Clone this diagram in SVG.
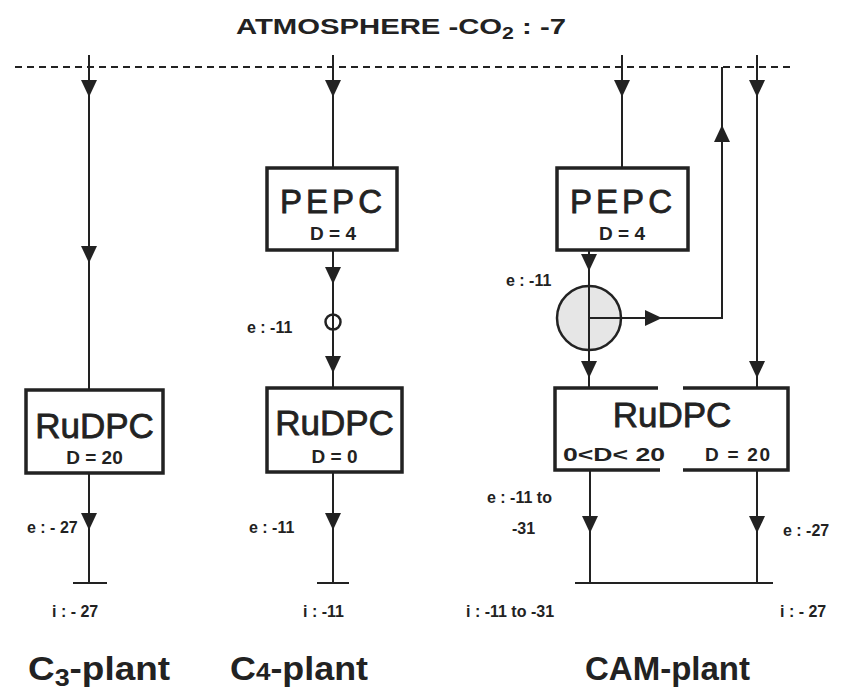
<svg xmlns="http://www.w3.org/2000/svg" xmlns:xlink="http://www.w3.org/1999/xlink" width="851" height="695" viewBox="0 0 851 695">
<style>
.bg{fill:#fff}
.ln{stroke:#222;stroke-width:2;fill:none}
.box{stroke:#222;stroke-width:3.5;fill:#fff}
.bx{stroke:#222;stroke-width:3.5;fill:none}
.ah{fill:#222}
.t{font-family:"Liberation Sans",Arial,sans-serif;fill:#222}
.big{font-size:35px;stroke:#222;stroke-width:0.8}
.pe{font-size:33px;stroke:#222;stroke-width:0.8}
.sm{font-size:19px;font-weight:bold}
.lab{font-size:16px;font-weight:bold}
.pl{font-size:33px;font-weight:bold}
</style>
<defs>
<path id="ad" d="M-8,-17 L8,-17 L0,0 Z"/>
</defs>
<rect class="bg" width="851" height="695"/>

<text class="t" x="236" y="34" font-size="22" font-weight="bold" textLength="330" lengthAdjust="spacingAndGlyphs">ATMOSPHERE -CO<tspan font-size="16" dy="5">2</tspan><tspan dy="-5"> : -7</tspan></text>

<g id="connectors">
<line class="ln" x1="15" y1="67" x2="792" y2="67" stroke-dasharray="7,5"/>
<!-- C3 -->
<line class="ln" x1="89" y1="55" x2="89" y2="390"/>
<line class="ln" x1="89" y1="473" x2="89" y2="583"/>
<line class="ln" x1="73" y1="583" x2="107" y2="583"/>
<use class="ah" xlink:href="#ad" x="89" y="97"/>
<use class="ah" xlink:href="#ad" x="89" y="263"/>
<use class="ah" xlink:href="#ad" x="89" y="530"/>
<!-- C4 -->
<line class="ln" x1="333" y1="55" x2="333" y2="168"/>
<line class="ln" x1="333" y1="250" x2="333" y2="388"/>
<line class="ln" x1="333" y1="472" x2="333" y2="583"/>
<line class="ln" x1="317" y1="583" x2="349" y2="583"/>
<circle cx="333" cy="322" r="7.5" fill="#fff" stroke="#222" stroke-width="2.5"/>
<line class="ln" x1="333" y1="314" x2="333" y2="330"/>
<use class="ah" xlink:href="#ad" x="333" y="97"/>
<use class="ah" xlink:href="#ad" x="333" y="284"/>
<use class="ah" xlink:href="#ad" x="333" y="373"/>
<use class="ah" xlink:href="#ad" x="333" y="530"/>
<!-- CAM -->
<line class="ln" x1="622" y1="55" x2="622" y2="168"/>
<line class="ln" x1="589" y1="250" x2="589" y2="388"/>
<circle cx="589" cy="318" r="32" fill="#e6e6e6" stroke="#222" stroke-width="2.5"/>
<line class="ln" x1="589" y1="286" x2="589" y2="350"/>
<polyline class="ln" points="589,318 722,318 722,67"/>
<line class="ln" x1="757" y1="55" x2="757" y2="388"/>
<use class="ah" xlink:href="#ad" x="622" y="97"/>
<use class="ah" xlink:href="#ad" x="757" y="97"/>
<use class="ah" xlink:href="#ad" x="589" y="271"/>
<use class="ah" xlink:href="#ad" x="589" y="378"/>
<use class="ah" xlink:href="#ad" x="757" y="378"/>
<use class="ah" xlink:href="#ad" transform="translate(662,318) rotate(-90)"/>
<use class="ah" xlink:href="#ad" transform="translate(722,125) rotate(180)"/>
<line class="ln" x1="590" y1="470" x2="590" y2="583"/>
<line class="ln" x1="757" y1="470" x2="757" y2="583"/>
<line class="ln" x1="575" y1="583" x2="773" y2="583"/>
<use class="ah" xlink:href="#ad" x="590" y="533"/>
<use class="ah" xlink:href="#ad" x="757" y="533"/>
</g>

<g id="c3-rudpc">
<rect class="box" x="26" y="390" width="137" height="83"/>
<text class="t big" x="94.5" y="438" text-anchor="middle">RuDPC</text>
<text class="t sm" x="94.5" y="464" text-anchor="middle">D = 20</text>
</g>

<g id="c4-pepc">
<rect class="box" x="267" y="168" width="130" height="82"/>
<text class="t pe" x="331" y="213" text-anchor="middle" textLength="102" lengthAdjust="spacing">PEPC</text>
<text class="t sm" x="333" y="240" text-anchor="middle">D = 4</text>
</g>

<g id="c4-rudpc">
<rect class="box" x="267" y="388" width="135" height="84"/>
<text class="t big" x="334.5" y="435" text-anchor="middle">RuDPC</text>
<text class="t sm" x="334.5" y="463" text-anchor="middle">D = 0</text>
</g>

<g id="cam-pepc">
<rect class="box" x="557" y="168" width="131" height="82"/>
<text class="t pe" x="621" y="213" text-anchor="middle" textLength="102" lengthAdjust="spacing">PEPC</text>
<text class="t sm" x="622" y="240" text-anchor="middle">D = 4</text>
</g>

<g id="cam-rudpc">
<rect x="555" y="388" width="233" height="82" fill="#fff"/>
<path class="bx" d="M658,388 H555 V470 H660 M683,470 H788 V388 H683"/>
<text class="t big" x="672" y="427" text-anchor="middle">RuDPC</text>
<text class="t sm" x="563" y="461" textLength="102" lengthAdjust="spacingAndGlyphs">0&lt;D&lt; 20</text>
<text class="t sm" x="705" y="461" textLength="65" lengthAdjust="spacing">D = 20</text>
</g>

<g id="labels">
<text class="t lab" x="27" y="533">e : - 27</text>
<text class="t lab" x="52" y="617">i : - 27</text>
<text class="t lab" x="247" y="333">e : -11</text>
<text class="t lab" x="249" y="533">e : -11</text>
<text class="t lab" x="303" y="617">i : -11</text>
<text class="t lab" x="506" y="286">e : -11</text>
<text class="t lab" x="487" y="503">e : -11 to</text>
<text class="t lab" x="512" y="534">-31</text>
<text class="t lab" x="783" y="536">e : -27</text>
<text class="t lab" x="466" y="617">i : -11  to -31</text>
<text class="t lab" x="780" y="617">i : - 27</text>
</g>

<g id="plants">
<text class="t pl" x="28" y="680" textLength="142" lengthAdjust="spacingAndGlyphs">C<tspan font-size="24" dy="6">3</tspan><tspan dy="-6">-plant</tspan></text>
<text class="t pl" x="230" y="680" textLength="138" lengthAdjust="spacingAndGlyphs">C<tspan font-size="24">4</tspan>-plant</text>
<text class="t pl" x="585" y="680" textLength="165" lengthAdjust="spacingAndGlyphs">CAM-plant</text>
</g>
</svg>
